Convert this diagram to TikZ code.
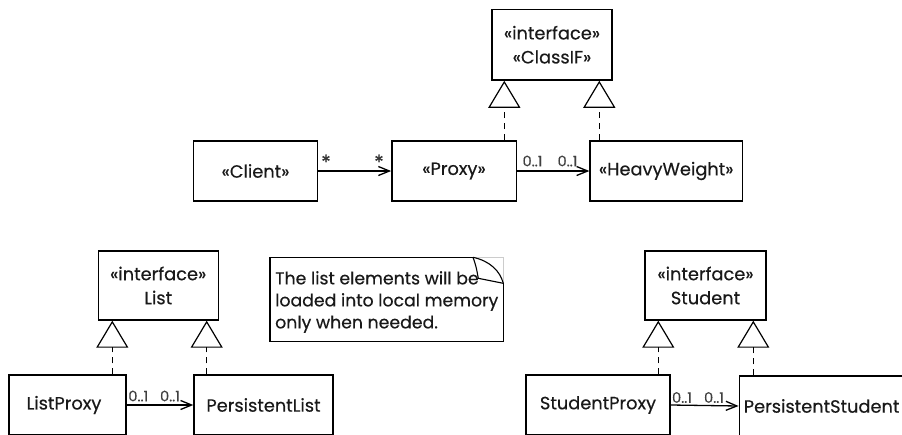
\documentclass[tikz,border=0pt]{standalone}
\usepackage{fontspec}
\setmainfont{Poppins}[FakeBold=0.4]
\usetikzlibrary{arrows.meta}
\begin{document}
\begin{tikzpicture}[x=1pt,y=-1pt,
  cls/.style={draw, line width=1.4pt, inner sep=0pt, align=center,
    font=\fontsize{17.8}{24}\selectfont, text=black!90},
  real/.style={line width=1.2pt, dash pattern=on 6pt off 5pt,
    -{Triangle[open,length=27pt,width=32pt,line width=1.2pt]}},
  assoc/.style={line width=1.3pt,
    -{Straight Barb[length=11pt,width=9pt,line width=1.3pt]}},
  mult/.style={font=\fontsize{14.5}{14.5}\selectfont, inner sep=0pt, text=black!75},
  star/.style={font=\fontsize{20}{20}\selectfont, inner sep=0pt, text=black!80},
  notetext/.style={font=\fontsize{17.3}{22}\selectfont, align=left, inner sep=0pt, anchor=west, text=black!90},
]
\useasboundingbox (0,0) rectangle (902,434);
\clip (0,0) rectangle (902,434);

% ---- top diagram ----
\node[cls, minimum width=120pt, minimum height=70.7pt] (classif) at (552,44.7) {«interface»\\«ClassIF»};
\node[cls, minimum width=124.4pt, minimum height=60.3pt] (client) at (255.5,171) {«Client»};
\node[cls, minimum width=124.4pt, minimum height=60.3pt] (proxy) at (454,171) {«Proxy»};
\node[cls, minimum width=152.3pt, minimum height=60.3pt] (heavy) at (666.2,171) {«HeavyWeight»};

\coordinate (t1) at (504.3,0);
\coordinate (t2) at (599.3,0);
\draw[real] (proxy.north -| t1) -- (classif.south -| t1);
\draw[real] (heavy.north -| t2) -- (classif.south -| t2);
\draw[assoc] (client.east) -- (proxy.west);
\draw[assoc] (proxy.east) -- (heavy.west);
\node[star] (m1) at (326,162) {*};
\node[star] (m2) at (379,162) {*};
\node[mult] (m3) at (532.5,161) {0..1};
\node[mult] (m4) at (567.5,161) {0..1};

% ---- bottom left ----
\node[cls, minimum width=120pt, minimum height=69pt] (list) at (158.2,285.5) {«interface»\\List};
\node[cls, minimum width=117pt, minimum height=60pt] (listproxy) at (67.5,405) {\hspace{-7pt}ListProxy};
\node[cls, minimum width=139pt, minimum height=60pt] (plist) at (263.5,405) {PersistentList};
\coordinate (t3) at (112.3,0);
\coordinate (t4) at (206.7,0);
\draw[real] (listproxy.north -| t3) -- (list.south -| t3);
\draw[real] (plist.north -| t4) -- (list.south -| t4);
\draw[assoc] (listproxy.east) -- (plist.west);
\node[mult] (m5) at (138.3,396) {0..1};
\node[mult] (m6) at (170,396) {0..1};

% ---- note ----
\draw[line width=1.3pt] (473,257.3) -- (270,257.3) -- (270,341.7) -- (503.3,341.7) -- (503.3,283.3);
\draw[black!20, line width=0.8pt] (473,257.3) -- (503.3,257.3) -- (503.3,283.3);
\draw[line width=1.1pt] (473,257.3) .. controls (490,261) and (500,271) .. (503.3,283.3);
\draw[line width=1.1pt] (473,257.3) .. controls (476,266) .. (478.3,278.3) -- (503.3,283.3);
\node[notetext] (note) at (275,302) {The list elements will be\\loaded into local memory\\only when needed.};

% ---- bottom right ----
\node[cls, minimum width=121pt, minimum height=69pt] (student) at (705.5,285.5) {«interface»\\Student};
\node[cls, minimum width=144pt, minimum height=60pt] (sproxy) at (598,405) {StudentProxy};
\node[cls, minimum width=167pt, minimum height=60pt] (pstudent) at (822.8,406) {\makebox[160pt][l]{\hspace{1pt}PersistentStudent}};
\coordinate (t5) at (658.3,0);
\coordinate (t6) at (753.3,0);
\draw[real] (sproxy.north -| t5) -- (student.south -| t5);
\draw[real] (pstudent.north -| t6) -- (student.south -| t6);
\draw[assoc] (sproxy.east) -- (pstudent.west);
\node[mult] (m7) at (682,397.5) {0..1};
\node[mult] (m8) at (714,397.5) {0..1};
\end{tikzpicture}
\end{document}
